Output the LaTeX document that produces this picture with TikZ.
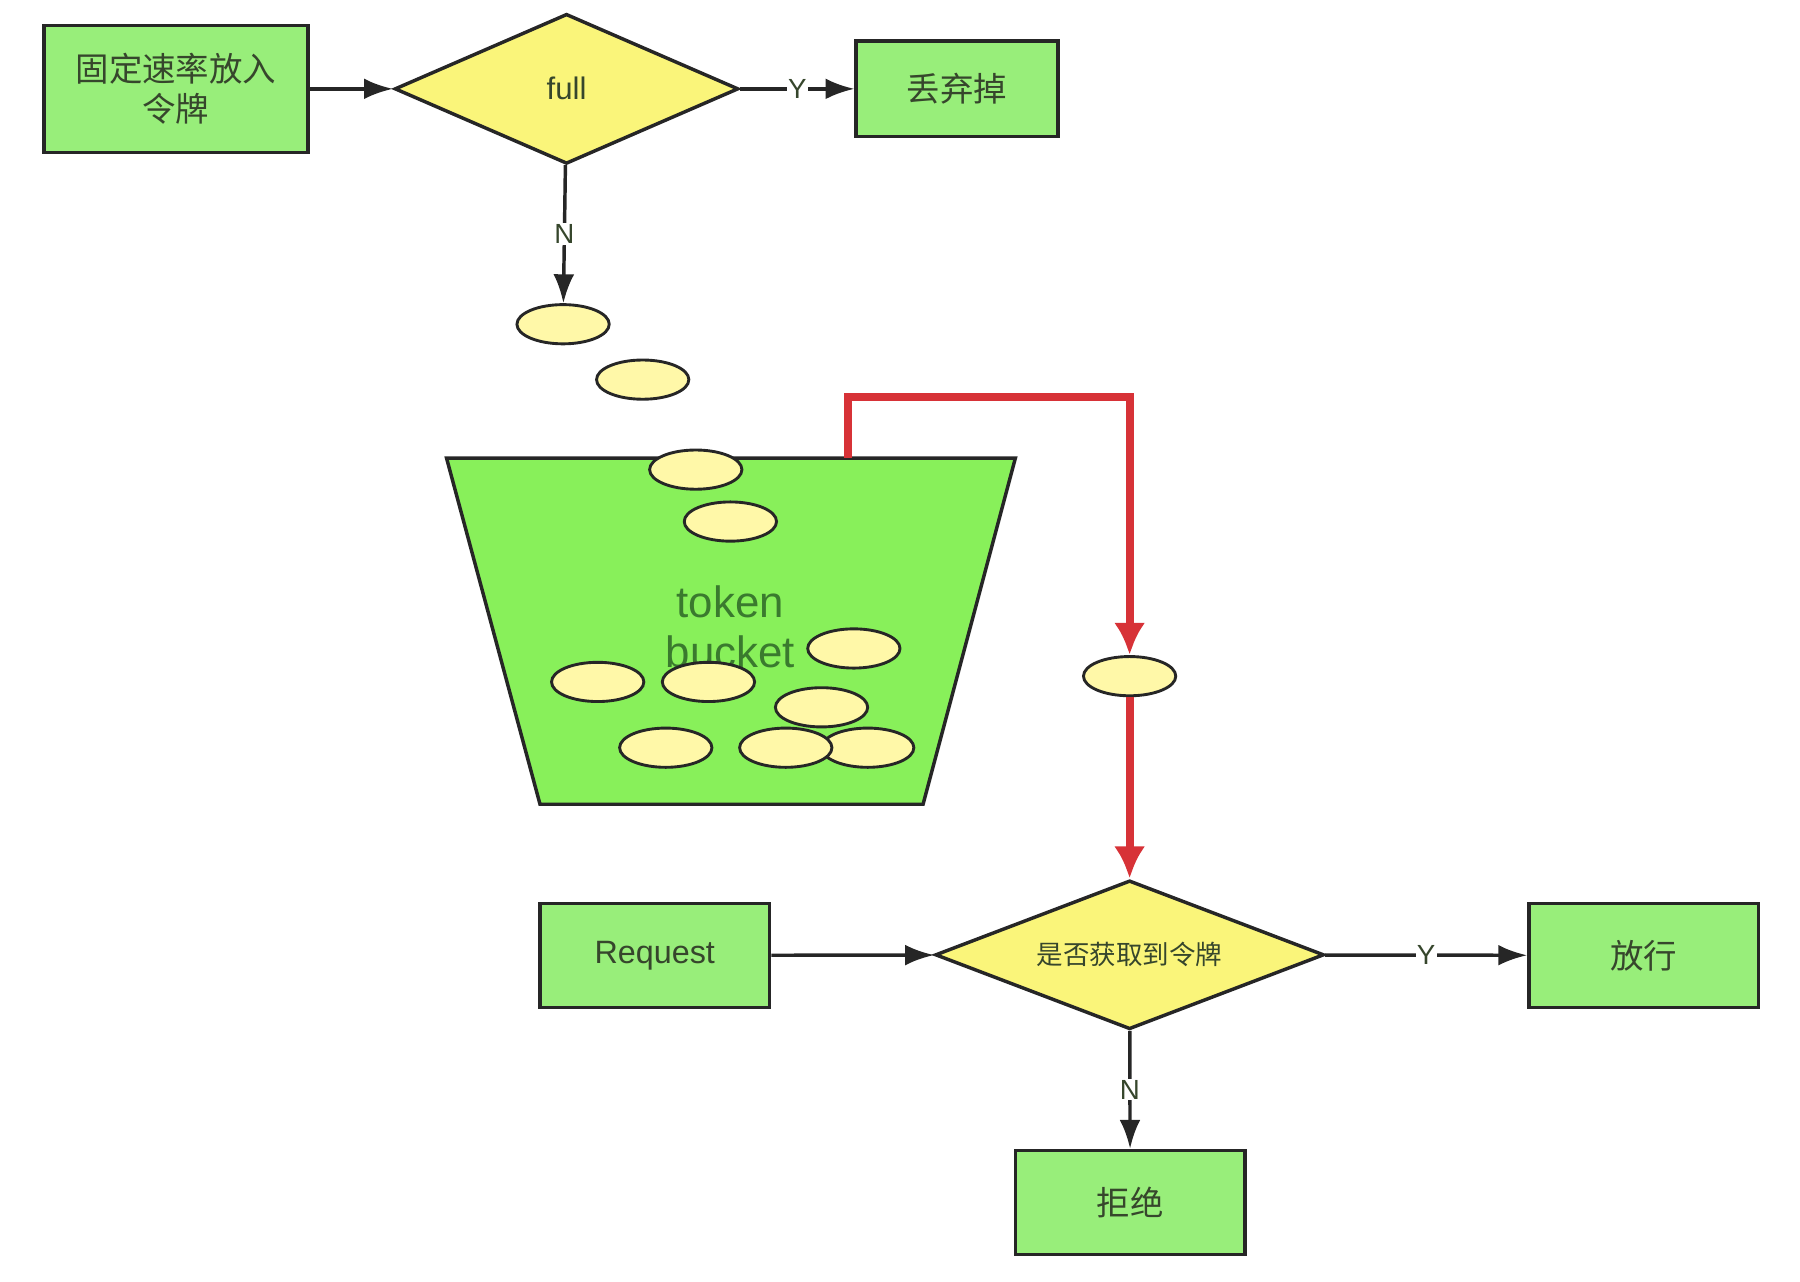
\documentclass[tikz,border=0pt]{standalone}
\usepackage{fontspec}
\setmainfont{Liberation Sans}
\newfontfamily\cjk{Noto Sans CJK SC}
\usetikzlibrary{shapes.geometric,arrows.meta}
\definecolor{boxgreen}{HTML}{98EE7A}
\definecolor{bucketgreen}{HTML}{88F05A}
\definecolor{decyellow}{HTML}{FAF57A}
\definecolor{tokenyellow}{HTML}{FFF8A8}
\definecolor{takered}{HTML}{D73237}
\definecolor{linegray}{HTML}{262626}
\definecolor{textgray}{HTML}{36462C}
\definecolor{bucketlabel}{HTML}{3A7A2E}
\tikzset{>={Latex[length=25pt,width=18pt]}}

\begin{document}
\begin{tikzpicture}[x=1pt,y=-1pt,
    box/.style={draw=linegray,line width=3pt,fill=boxgreen,text=textgray,
      font=\cjk\fontsize{29}{35}\selectfont,align=center,inner sep=0pt},
    decision/.style={diamond,aspect=2.6,draw=linegray,line width=3pt,fill=decyellow,
      text=textgray,inner sep=0pt},
    token/.style={ellipse,draw=linegray,line width=2.5pt,fill=tokenyellow,
      minimum width=80pt,minimum height=34pt,inner sep=0pt},
    flow/.style={->,line width=3pt,draw=linegray},
    yn/.style={fill=white,inner sep=1pt,text=textgray,font=\fontsize{24}{24}\selectfont},
    take/.style={-{Latex[length=28pt,width=27pt]},line width=7pt,draw=takered}]

\useasboundingbox (0,0) rectangle (1560,1111);

% filling the bucket
\node[box,minimum width=229pt,minimum height=110pt] (fill) at (152.5,77) {固定速率放入\\令牌};
\node[decision,minimum width=298pt,minimum height=130pt,
      font=\fontsize{27}{27}\selectfont] (full) at (491,77) {full};
\node[box,minimum width=175pt,minimum height=83pt] (drop) at (829.5,77) {丢弃掉};

% the bucket
\draw[draw=linegray,line width=3pt,fill=bucketgreen]
  (387,397) -- (880,397) -- (800,697) -- (468,697) -- cycle;
\coordinate (lid) at (735,397);
\coordinate (bend) at (735,344);
\node[text=bucketlabel,align=center,font=\fontsize{38}{43}\selectfont] (label) at (633,543) {token\\bucket};

% requests
\node[box,minimum width=199pt,minimum height=90pt,font=\fontsize{28}{28}\selectfont] (req) at (567.5,828) {Request};
\node[decision,minimum width=337pt,minimum height=129pt,
      font=\cjk\fontsize{23}{23}\selectfont] (check) at (979,827.5) {是否获取到令牌};
\node[box,minimum width=199pt,minimum height=90pt] (pass) at (1424.5,828) {放行};
\node[box,minimum width=199pt,minimum height=90pt] (reject) at (979.5,1042) {拒绝};

% tokens
\foreach \x/\y [count=\i] in {488/281,557/329,603/407,633/452,740/562,518/591,
    614/591,712/613,577/648,752/648,681/648,979/586}
  \node[token] (t\i) at (\x,\y) {};

\draw[flow] (fill) -- (full);
\draw[flow] (full) -- node[yn] {Y} (drop);
\draw[flow] (full) -- node[yn] {N} (t1);
\draw[take] (lid) -- (bend) -| (t12);
\draw[take] (t12) -- (check);
\draw[flow] (req) -- (check);
\draw[flow] (check) -- node[yn] {Y} (pass);
\draw[flow] (check) -- node[yn] {N} (reject);
\end{tikzpicture}
\end{document}
